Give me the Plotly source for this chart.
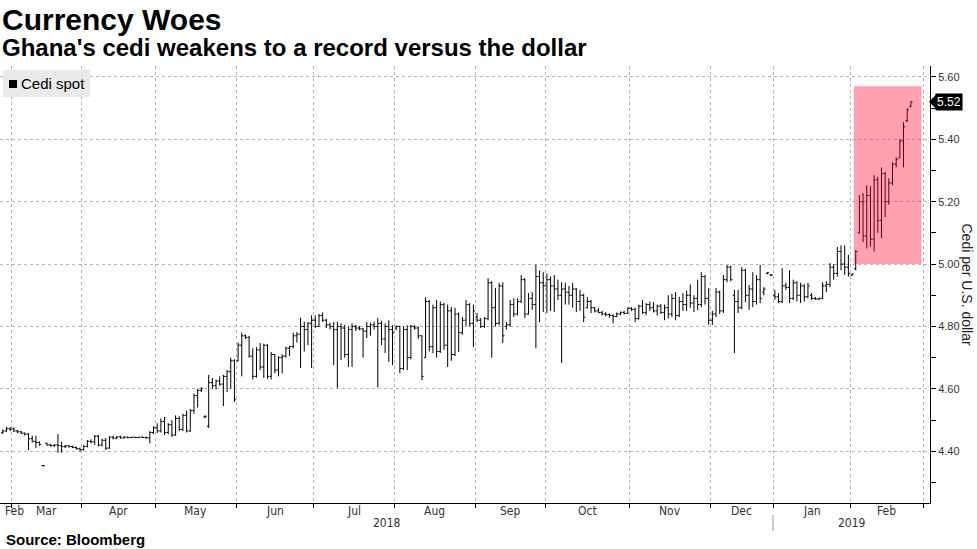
import plotly.graph_objects as go

# ---------------- data ----------------
month_labels = ["Feb", "Mar", "Apr", "May", "Jun", "Jul", "Aug", "Sep", "Oct", "Nov", "Dec", "Jan", "Feb"]
month_trading_days = [3, 19, 20, 22, 21, 22, 22, 19, 23, 22, 17, 21, 20]
year_labels = ["2018", "2019"]
year_start_month = [0, 11]

open_ = [
    4.460, 4.465, 4.472,
    4.472, 4.465, 4.462, 4.458, 4.455, 4.440, 4.432, 4.428, 4.354, 4.425, 4.420, 4.418, 4.420, 4.418, 4.415, 4.417, 4.415, 4.412, 4.408,
    4.405, 4.415, 4.432, 4.430, 4.448, 4.420, 4.435, 4.410, 4.445, 4.442, 4.446, 4.443, 4.445, 4.444, 4.445, 4.444, 4.445, 4.444, 4.443, 4.460,
    4.475, 4.465, 4.495, 4.460, 4.485, 4.452, 4.505, 4.470, 4.515, 4.465, 4.530, 4.578, 4.595, 4.510, 4.480, 4.620, 4.610, 4.625, 4.615, 4.640, 4.655, 4.690,
    4.690, 4.740, 4.770, 4.765, 4.705, 4.640, 4.725, 4.670, 4.740, 4.640, 4.710, 4.660, 4.700, 4.705, 4.730, 4.735, 4.770, 4.775, 4.800, 4.790, 4.810,
    4.820, 4.800, 4.835, 4.820, 4.805, 4.800, 4.790, 4.800, 4.795, 4.710, 4.790, 4.800, 4.795, 4.792, 4.785, 4.800, 4.805, 4.800, 4.810, 4.760, 4.800, 4.790,
    4.795, 4.800, 4.665, 4.790, 4.700, 4.800, 4.795, 4.770, 4.700, 4.880, 4.735, 4.860, 4.720, 4.870, 4.740, 4.850, 4.710, 4.840, 4.780, 4.820, 4.870, 4.810,
    4.830, 4.820, 4.800, 4.825, 4.940, 4.860, 4.810, 4.930, 4.800, 4.805, 4.870, 4.840, 4.880, 4.950, 4.840, 4.890, 4.870, 4.960, 4.940,
    4.930, 4.950, 4.930, 4.920, 4.900, 4.920, 4.910, 4.900, 4.920, 4.880, 4.900, 4.860, 4.880, 4.860, 4.850, 4.845, 4.840, 4.838, 4.835, 4.832, 4.840, 4.845, 4.842,
    4.858, 4.855, 4.825, 4.865, 4.845, 4.870, 4.860, 4.850, 4.865, 4.845, 4.860, 4.840, 4.890, 4.835, 4.880, 4.870, 4.900, 4.875, 4.890, 4.870, 4.960, 4.890,
    4.820, 4.840, 4.910, 4.850, 4.950, 4.990, 4.900, 4.880, 4.860, 4.980, 4.900, 4.920, 4.880, 4.950, 4.910, 4.970, 4.965,
    4.900, 4.895, 4.880, 4.930, 4.925, 4.890, 4.940, 4.900, 4.930, 4.895, 4.900, 4.890, 4.888, 4.890, 4.930, 4.935, 4.990, 4.970, 5.040, 5.000, 4.990,
    4.965, 4.985, 5.100, 5.200, 5.090, 5.220, 5.080, 5.270, 5.140, 5.290, 5.200, 5.260, 5.320, 5.340, 5.395, 5.460, 5.505,
]
high = [
    4.470, 4.478, 4.478,
    4.476, 4.468, 4.465, 4.460, 4.458, 4.450, 4.450, 4.432, 4.356, 4.428, 4.424, 4.422, 4.455, 4.430, 4.420, 4.420, 4.418, 4.415, 4.412,
    4.420, 4.436, 4.438, 4.452, 4.452, 4.440, 4.442, 4.448, 4.450, 4.448, 4.450, 4.448, 4.447, 4.446, 4.446, 4.446, 4.447, 4.447, 4.465, 4.480,
    4.490, 4.505, 4.510, 4.490, 4.500, 4.515, 4.512, 4.520, 4.530, 4.535, 4.585, 4.600, 4.605, 4.515, 4.645, 4.635, 4.630, 4.640, 4.645, 4.660, 4.700, 4.695,
    4.748, 4.780, 4.775, 4.770, 4.730, 4.734, 4.747, 4.745, 4.742, 4.718, 4.712, 4.705, 4.710, 4.735, 4.738, 4.780, 4.782, 4.828, 4.815, 4.814, 4.836,
    4.836, 4.840, 4.845, 4.825, 4.812, 4.814, 4.815, 4.810, 4.805, 4.800, 4.810, 4.805, 4.802, 4.795, 4.814, 4.812, 4.815, 4.827, 4.818, 4.810, 4.820, 4.804,
    4.804, 4.802, 4.800, 4.804, 4.805, 4.804, 4.800, 4.772, 4.894, 4.885, 4.870, 4.885, 4.880, 4.875, 4.870, 4.862, 4.860, 4.845, 4.830, 4.885, 4.875, 4.870,
    4.843, 4.827, 4.830, 4.955, 4.945, 4.923, 4.940, 4.942, 4.814, 4.885, 4.890, 4.890, 4.965, 4.955, 4.907, 4.910, 4.998, 4.980, 4.974,
    4.970, 4.960, 4.965, 4.950, 4.942, 4.940, 4.930, 4.940, 4.923, 4.917, 4.905, 4.894, 4.885, 4.862, 4.858, 4.850, 4.846, 4.842, 4.838, 4.845, 4.848, 4.850, 4.862,
    4.862, 4.860, 4.870, 4.885, 4.875, 4.880, 4.878, 4.870, 4.872, 4.870, 4.900, 4.905, 4.910, 4.895, 4.907, 4.915, 4.935, 4.900, 4.950, 4.974, 4.965, 4.923,
    4.850, 4.923, 4.915, 4.965, 4.997, 4.995, 4.917, 4.917, 4.990, 4.985, 4.933, 4.974, 4.965, 4.997, 4.926, 4.974, 4.968,
    4.917, 4.907, 4.987, 4.940, 4.980, 4.950, 4.945, 4.940, 4.935, 4.940, 4.907, 4.895, 4.892, 4.942, 4.945, 5.003, 5.000, 5.055, 5.060, 5.060, 5.030,
    4.970, 5.045, 5.221, 5.228, 5.253, 5.250, 5.285, 5.280, 5.310, 5.295, 5.275, 5.327, 5.343, 5.400, 5.455, 5.500, 5.522,
]
low = [
    4.455, 4.462, 4.465,
    4.462, 4.458, 4.455, 4.450, 4.404, 4.428, 4.410, 4.418, 4.352, 4.418, 4.415, 4.414, 4.395, 4.395, 4.410, 4.412, 4.410, 4.405, 4.400,
    4.402, 4.412, 4.425, 4.420, 4.415, 4.415, 4.404, 4.408, 4.438, 4.438, 4.440, 4.440, 4.441, 4.443, 4.443, 4.443, 4.443, 4.440, 4.425, 4.455,
    4.458, 4.460, 4.452, 4.455, 4.445, 4.450, 4.465, 4.465, 4.460, 4.462, 4.520, 4.540, 4.590, 4.505, 4.475, 4.600, 4.598, 4.610, 4.545, 4.590, 4.600, 4.558,
    4.688, 4.640, 4.760, 4.700, 4.630, 4.636, 4.660, 4.635, 4.632, 4.630, 4.650, 4.640, 4.650, 4.700, 4.705, 4.730, 4.748, 4.667, 4.720, 4.740, 4.667,
    4.795, 4.798, 4.815, 4.795, 4.790, 4.676, 4.603, 4.692, 4.700, 4.670, 4.670, 4.785, 4.788, 4.700, 4.763, 4.770, 4.790, 4.605, 4.740, 4.715, 4.686, 4.676,
    4.788, 4.650, 4.660, 4.660, 4.695, 4.790, 4.760, 4.628, 4.700, 4.720, 4.715, 4.700, 4.715, 4.725, 4.670, 4.690, 4.705, 4.718, 4.773, 4.800, 4.800, 4.734,
    4.814, 4.795, 4.795, 4.820, 4.700, 4.800, 4.805, 4.747, 4.790, 4.800, 4.830, 4.835, 4.875, 4.827, 4.838, 4.853, 4.730, 4.814, 4.846,
    4.843, 4.850, 4.846, 4.885, 4.683, 4.870, 4.870, 4.860, 4.846, 4.850, 4.814, 4.858, 4.843, 4.845, 4.843, 4.835, 4.832, 4.828, 4.810, 4.830, 4.836, 4.838, 4.840,
    4.850, 4.814, 4.822, 4.840, 4.836, 4.850, 4.845, 4.835, 4.840, 4.820, 4.825, 4.830, 4.820, 4.830, 4.850, 4.850, 4.860, 4.846, 4.853, 4.862, 4.870, 4.805,
    4.805, 4.830, 4.840, 4.843, 4.942, 4.945, 4.715, 4.843, 4.855, 4.878, 4.853, 4.862, 4.870, 4.875, 4.900, 4.968, 4.962,
    4.885, 4.875, 4.875, 4.917, 4.875, 4.885, 4.880, 4.875, 4.880, 4.890, 4.885, 4.885, 4.885, 4.888, 4.910, 4.926, 4.950, 4.960, 4.980, 4.965, 4.960,
    4.962, 4.980, 5.098, 5.070, 5.050, 5.055, 5.040, 5.100, 5.083, 5.150, 5.190, 5.253, 5.310, 5.340, 5.310, 5.455, 5.503,
]
close = [
    4.465, 4.472, 4.470,
    4.465, 4.462, 4.458, 4.455, 4.440, 4.432, 4.428, 4.422, 4.353, 4.420, 4.418, 4.420, 4.418, 4.415, 4.417, 4.415, 4.412, 4.408, 4.405,
    4.415, 4.432, 4.430, 4.448, 4.420, 4.435, 4.410, 4.445, 4.442, 4.446, 4.443, 4.445, 4.444, 4.445, 4.444, 4.445, 4.444, 4.443, 4.460, 4.475,
    4.465, 4.495, 4.460, 4.485, 4.452, 4.505, 4.470, 4.515, 4.465, 4.530, 4.578, 4.595, 4.600, 4.512, 4.620, 4.610, 4.625, 4.615, 4.640, 4.655, 4.690, 4.565,
    4.740, 4.770, 4.765, 4.705, 4.640, 4.725, 4.670, 4.740, 4.640, 4.710, 4.660, 4.700, 4.705, 4.730, 4.735, 4.770, 4.775, 4.800, 4.790, 4.810, 4.820,
    4.800, 4.835, 4.820, 4.805, 4.800, 4.790, 4.800, 4.795, 4.710, 4.790, 4.800, 4.795, 4.792, 4.785, 4.800, 4.805, 4.800, 4.810, 4.760, 4.800, 4.790, 4.780,
    4.800, 4.665, 4.790, 4.700, 4.800, 4.795, 4.770, 4.640, 4.880, 4.735, 4.860, 4.720, 4.870, 4.740, 4.850, 4.710, 4.840, 4.780, 4.820, 4.870, 4.810, 4.850,
    4.820, 4.800, 4.825, 4.940, 4.860, 4.810, 4.930, 4.770, 4.805, 4.870, 4.840, 4.880, 4.950, 4.840, 4.890, 4.870, 4.960, 4.940, 4.930,
    4.950, 4.930, 4.920, 4.900, 4.920, 4.910, 4.900, 4.920, 4.880, 4.900, 4.830, 4.880, 4.860, 4.850, 4.845, 4.840, 4.838, 4.835, 4.832, 4.840, 4.845, 4.842, 4.858,
    4.855, 4.825, 4.865, 4.845, 4.870, 4.860, 4.850, 4.865, 4.845, 4.860, 4.840, 4.890, 4.835, 4.880, 4.870, 4.900, 4.875, 4.890, 4.870, 4.960, 4.890, 4.820,
    4.840, 4.910, 4.850, 4.950, 4.990, 4.950, 4.880, 4.860, 4.980, 4.900, 4.920, 4.880, 4.950, 4.890, 4.920, 4.972, 4.965,
    4.895, 4.880, 4.930, 4.925, 4.890, 4.940, 4.900, 4.930, 4.895, 4.930, 4.890, 4.888, 4.890, 4.930, 4.935, 4.990, 4.970, 5.040, 5.000, 4.990, 4.970,
    4.968, 5.040, 5.200, 5.090, 5.220, 5.080, 5.270, 5.140, 5.290, 5.200, 5.260, 5.320, 5.335, 5.395, 5.440, 5.495, 5.520,
]
y_ticks = [4.40, 4.60, 4.80, 5.00, 5.20, 5.40, 5.60]
highlight_low, highlight_high = 5.00, 5.57

# ---------------- geometry ----------------
W, H = 977, 549
ML, MR, MT, MB = 0, 47, 66, 46
PW, PH = W - ML - MR, H - MT - MB


def pxp(xpix):
    return (xpix - ML) / PW


def pyp(ypix):
    return (H - MB - ypix) / PH


n = len(close)
xs = list(range(n))
bounds = []
acc = 0
for d in month_trading_days:
    acc += d
    bounds.append(acc - 0.5)
x_min, x_max = -0.76, 252.2
y_min, y_max = 4.234, 5.635

fig = go.Figure()
fig.add_trace(go.Ohlc(
    x=xs, open=open_, high=high, low=low, close=close,
    increasing=dict(line=dict(color="#000000", width=1)),
    decreasing=dict(line=dict(color="#000000", width=1)),
    tickwidth=0.45, hoverinfo="skip", showlegend=False,
))

label_font = dict(family="Liberation Sans Narrow, DejaVu Sans Condensed, Liberation Sans", size=12, color="#333333")
annotations = []
# month labels
for i, lab in enumerate(month_labels):
    left = bounds[i - 1] if i > 0 else x_min
    right = bounds[i]
    if i == 0:
        annotations.append(dict(x=x_min + 0.8, y=0, xref="x", yref="paper", text=lab, showarrow=False,
                                xanchor="left", yanchor="middle", yshift=-8, font=label_font))
    else:
        annotations.append(dict(x=(left + right) / 2, y=0, xref="x", yref="paper", text=lab, showarrow=False,
                                xanchor="center", yanchor="middle", yshift=-8, font=label_font))
# year labels
sep = bounds[year_start_month[1] - 1]
year_spans = [(x_min, sep), (sep, x_max)]
for lab, (a, b) in zip(year_labels, year_spans):
    annotations.append(dict(x=(a + b) / 2, y=0, xref="x", yref="paper", text=lab, showarrow=False,
                            xanchor="center", yanchor="middle", yshift=-20, font=label_font))

title_font = "Liberation Sans, Arial, sans-serif"
annotations += [
    dict(x=pxp(0), y=pyp(19.5), xref="paper", yref="paper", text="<b>Currency Woes</b>", showarrow=False,
         xanchor="left", yanchor="middle", font=dict(family=title_font, size=30, color="#000000")),
    dict(x=pxp(0), y=pyp(47), xref="paper", yref="paper",
         text="<b>Ghana's cedi weakens to a record versus the dollar</b>", showarrow=False,
         xanchor="left", yanchor="middle", font=dict(family=title_font, size=24, color="#000000")),
    dict(x=pxp(4), y=pyp(539), xref="paper", yref="paper", text="<b>Source: Bloomberg</b>", showarrow=False,
         xanchor="left", yanchor="middle", font=dict(family=title_font, size=15, color="#000000")),
    dict(x=pxp(19), y=pyp(84), xref="paper", yref="paper", text="Cedi spot", showarrow=False,
         xanchor="left", yanchor="middle", font=dict(family=title_font, size=15, color="#000000")),
    dict(x=pxp(967), y=0.5, xref="paper", yref="paper", text="Cedi per U.S. dollar", showarrow=False,
         textangle=90, xanchor="center", yanchor="middle", font=dict(family=title_font, size=14, color="#222222")),
    dict(x=pxp(935), y=close[-1], xref="paper", yref="y", text="%.2f" % close[-1], showarrow=False,
         xanchor="left", yanchor="middle", bgcolor="#000000", borderpad=1,
         font=dict(family=title_font, size=12, color="#ffffff")),
]

shapes = [
    # highlight box
    dict(type="rect", xref="x", yref="y", x0=bounds[11] + 1.0, x1=bounds[12] - 0.6,
         y0=highlight_low, y1=highlight_high, fillcolor="rgba(255,0,40,0.37)", line=dict(width=0), layer="above"),
    # legend box
    dict(type="rect", xref="paper", yref="paper", x0=pxp(3), x1=pxp(90), y0=pyp(97), y1=pyp(70),
         fillcolor="rgba(232,232,232,0.9)", line=dict(width=0), layer="above"),
    dict(type="rect", xref="paper", yref="paper", x0=pxp(9), x1=pxp(17), y0=pyp(88), y1=pyp(80),
         fillcolor="#000000", line=dict(width=0), layer="above"),
    # year separator
    dict(type="line", xref="x", yref="paper", x0=sep, x1=sep, y0=pyp(531), y1=pyp(515),
         line=dict(color="#999999", width=1)),
]
# pointer of last-price tag
yv = close[-1]
dy = 7 / PH * (y_max - y_min)
shapes.append(dict(type="path", xref="paper", yref="y",
                   path="M %f,%f L %f,%f L %f,%f Z" % (pxp(929), yv, pxp(936), yv + dy, pxp(936), yv - dy),
                   fillcolor="#000000", line=dict(width=0)))

fig.update_layout(
    width=W, height=H, margin=dict(l=ML, r=MR, t=MT, b=MB, pad=0),
    paper_bgcolor="#ffffff", plot_bgcolor="#ffffff",
    showlegend=False, annotations=annotations, shapes=shapes,
    xaxis=dict(range=[x_min, x_max], tickmode="array", tickvals=bounds, ticktext=[""] * len(bounds),
               showticklabels=False, ticks="outside", ticklen=4, tickcolor="#000000",
               showgrid=True, gridcolor="#b5b5b5", griddash="dot", gridwidth=1,
               showline=True, linecolor="#000000", linewidth=1, zeroline=False,
               rangeslider=dict(visible=False), fixedrange=True),
    yaxis=dict(range=[y_min, y_max], side="right", tickmode="array", tickvals=y_ticks,
               ticktext=["%.2f" % v for v in y_ticks], ticks="outside", ticklen=5, tickcolor="#000000",
               tickfont=dict(family="Liberation Sans, Arial", size=11, color="#333333"),
               minor=dict(tickmode="array", tickvals=[round(v + 0.1, 2) for v in [4.2] + y_ticks],
                          ticks="outside", ticklen=5, tickcolor="#000000", showgrid=False),
               showgrid=True, gridcolor="#b5b5b5", griddash="dot", gridwidth=1,
               showline=True, linecolor="#000000", linewidth=1, zeroline=False, fixedrange=True),
)

fig.write_html("out.html")
